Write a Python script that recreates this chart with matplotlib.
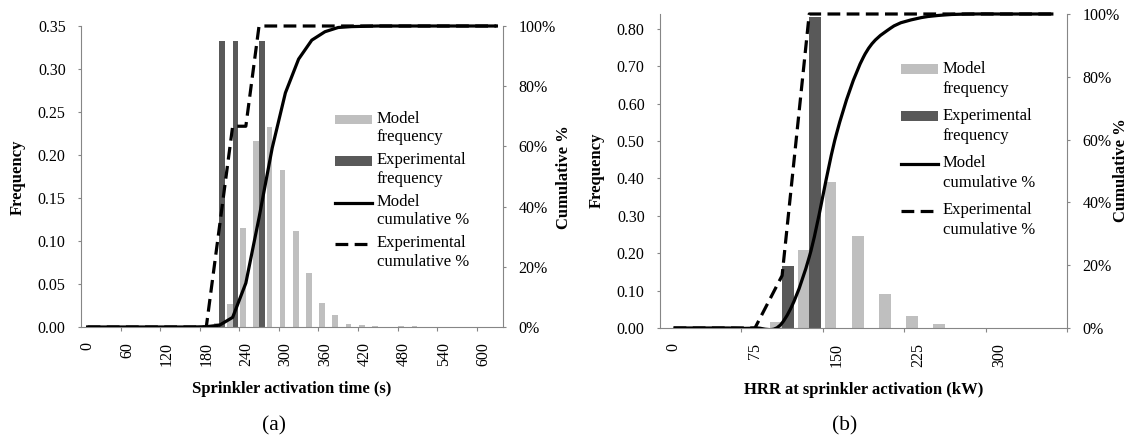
import numpy as np
import matplotlib
matplotlib.use("Agg")
import matplotlib.pyplot as plt
from matplotlib.path import Path
from matplotlib.patches import PathPatch, Rectangle
from matplotlib.lines import Line2D
from matplotlib.ticker import FuncFormatter, FixedLocator
from matplotlib.legend_handler import HandlerPatch, HandlerLine2D, update_from_first_child

plt.rcParams["font.family"] = ["Liberation Serif", "DejaVu Serif"]

W, H = 1128, 444

# (a) sprinkler activation time, 20 s bins
time_bins = [0, 20, 40, 60, 80, 100, 120, 140, 160, 180, 200, 220, 240, 260, 280, 300,
             320, 340, 360, 380, 400, 420, 440, 460, 480, 500, 520, 540, 560, 580, 600, 620]
time_model_freq = [0, 0, 0, 0, 0, 0, 0, 0, 0, 0.001, 0.005, 0.027, 0.115, 0.216, 0.232, 0.183,
                   0.112, 0.063, 0.028, 0.014, 0.004, 0.002, 0.0015, 0, 0.001, 0.001, 0, 0, 0, 0, 0, 0]
time_exp_freq = [0, 0, 0, 0, 0, 0, 0, 0, 0, 0, 0.333, 0.333, 0, 0.333, 0, 0,
                 0, 0, 0, 0, 0, 0, 0, 0, 0, 0, 0, 0, 0, 0, 0, 0]
time_model_cum = [0, 0, 0, 0, 0, 0, 0, 0, 0, 0.1, 0.6, 3.2, 14.6, 36.3, 59.5, 77.8,
                  89.0, 95.3, 98.1, 99.5, 99.8, 99.9, 100, 100, 100, 100, 100, 100, 100, 100, 100, 100]
time_exp_cum = [0, 0, 0, 0, 0, 0, 0, 0, 0, 0, 33.3, 66.7, 66.7, 100, 100, 100,
                100, 100, 100, 100, 100, 100, 100, 100, 100, 100, 100, 100, 100, 100, 100, 100]
time_ticks = [0, 60, 120, 180, 240, 300, 360, 420, 480, 540, 600]
freq_ticks_a = [0, 0.05, 0.10, 0.15, 0.20, 0.25, 0.30, 0.35]

# (b) HRR at activation, 25 kW bins
hrr_bins = [0, 25, 50, 75, 100, 125, 150, 175, 200, 225, 250, 275, 300, 325, 350]
hrr_model_freq = [0, 0, 0, 0, 0.016, 0.210, 0.390, 0.246, 0.092, 0.031, 0.011, 0, 0, 0, 0]
hrr_exp_freq = [0, 0, 0, 0, 0.167, 0.833, 0, 0, 0, 0, 0, 0, 0, 0, 0]
hrr_model_cum = [0, 0, 0, 0, 1.6, 22.6, 61.7, 86.3, 95.5, 98.6, 99.7, 100, 100, 100, 100]
hrr_exp_cum = [0, 0, 0, 0, 16.7, 100, 100, 100, 100, 100, 100, 100, 100, 100, 100]
hrr_ticks = [0, 75, 150, 225, 300]
freq_ticks_b = [0, 0.10, 0.20, 0.30, 0.40, 0.50, 0.60, 0.70, 0.80]

cum_ticks = [0, 20, 40, 60, 80, 100]

LIGHT = "#BFBFBF"
DARK = "#595959"
AXIS = "#868686"
LW = 2.3
DASH = (0, (4, 2))


def smooth_path(x, y):
    # cubic bezier through every point, tangents from neighbours (Catmull-Rom)
    x = np.asarray(x, float)
    y = np.asarray(y, float)
    n = len(x)
    verts = [(x[0], y[0])]
    codes = [Path.MOVETO]
    for i in range(n - 1):
        j0 = max(i - 1, 0)
        j3 = min(i + 2, n - 1)
        c1 = (x[i] + (x[i + 1] - x[j0]) / 6, y[i] + (y[i + 1] - y[j0]) / 6)
        c2 = (x[i + 1] - (x[j3] - x[i]) / 6, y[i + 1] - (y[j3] - y[i]) / 6)
        verts += [c1, c2, (x[i + 1], y[i + 1])]
        codes += [Path.CURVE4] * 3
    return Path(verts, codes)


class LiftPatch(HandlerPatch):
    def __init__(self, lift, **kw):
        super().__init__(**kw)
        self.lift = lift

    def create_artists(self, legend, orig_handle, xdescent, ydescent, width, height, fontsize, trans):
        return super().create_artists(legend, orig_handle, xdescent, ydescent - self.lift,
                                      width, height, fontsize, trans)


class LiftLine(HandlerLine2D):
    def __init__(self, lift, **kw):
        super().__init__(**kw)
        self.lift = lift

    def create_artists(self, legend, orig_handle, xdescent, ydescent, width, height, fontsize, trans):
        return super().create_artists(legend, orig_handle, xdescent, ydescent - 2 * self.lift,
                                      width, height, fontsize, trans)


def panel(fig, rect, bins, model_freq, exp_freq, model_cum, exp_cum, ticks, freq_ticks,
          ymax, smooth, legend_xy, linesp, labsp):
    ax = fig.add_axes(rect)
    binw = bins[1] - bins[0]
    w = 0.43 * binw
    b_model = ax.bar(bins, model_freq, width=-w, align="edge", color=LIGHT, linewidth=0)
    b_exp = ax.bar(bins, exp_freq, width=w, align="edge", color=DARK, linewidth=0)
    ax.set_xlim(bins[0] - binw / 2, bins[-1] + binw / 2)
    ax.set_ylim(0, ymax)

    ax2 = ax.twinx()
    ax2.set_ylim(0, 100)
    # lines may run over the top edge, but nothing below the x axis
    clip = Rectangle((0, 0), 1, 1.1, transform=ax2.transAxes, visible=False)
    ax2.add_patch(clip)
    if smooth:
        model_line = PathPatch(smooth_path(bins, model_cum), fill=False, ec="black", lw=LW)
        ax2.add_patch(model_line)
    else:
        model_line, = ax2.plot(bins, model_cum, color="black", lw=LW)
    exp_line, = ax2.plot(bins, exp_cum, color="black", lw=LW, ls=DASH)
    for ln in (model_line, exp_line):
        ln.set_clip_path(clip)

    for s in ("top", "right"):
        ax.spines[s].set_visible(False)
    for s in ("top", "left", "bottom"):
        ax2.spines[s].set_visible(False)
    for sp in (ax.spines["left"], ax.spines["bottom"], ax2.spines["right"]):
        sp.set_color(AXIS)
        sp.set_linewidth(0.8)

    ax.set_xticks(ticks)
    ax.set_xticklabels([str(t) for t in ticks], rotation=90)
    ax.xaxis.set_minor_locator(FixedLocator([b + binw / 2 for b in bins[2::3]]))
    ax.tick_params(axis="x", which="major", length=0, pad=11, labelsize=11.5)
    ax.tick_params(axis="x", which="minor", length=3, width=0.8, color=AXIS, direction="out")
    ax.yaxis.set_major_locator(FixedLocator(freq_ticks))
    ax.yaxis.set_major_formatter(FuncFormatter(lambda v, p: f"{v:.2f}"))
    ax.tick_params(axis="y", length=2, width=0.8, color=AXIS, pad=9, labelsize=11.5)
    ax2.yaxis.set_major_locator(FixedLocator(cum_ticks))
    ax2.yaxis.set_major_formatter(FuncFormatter(lambda v, p: f"{v:.0f}%"))
    ax2.tick_params(axis="y", length=2, width=0.8, color=AXIS, pad=9, labelsize=11.5)

    lift = 0.5 * linesp * 12 * 0.9
    h_model = Line2D([], [], color="black", lw=LW)
    h_exp = Line2D([], [], color="black", lw=LW, ls=DASH)
    leg = ax2.legend([b_model, b_exp, h_model, h_exp],
                     ["Model\nfrequency", "Experimental\nfrequency",
                      "Model\ncumulative %", "Experimental\ncumulative %"],
                     loc="upper left", bbox_to_anchor=(legend_xy[0] / W, 1 - legend_xy[1] / H),
                     bbox_transform=fig.transFigure, frameon=False, fontsize=12,
                     borderpad=0, borderaxespad=0, handlelength=2.2, handleheight=0.5,
                     handletextpad=0.3, labelspacing=labsp,
                     handler_map={type(b_model): LiftPatch(lift, update_func=update_from_first_child),
                                  Line2D: LiftLine(lift)})
    for t in leg.get_texts():
        t.set_linespacing(linesp)
    return ax, ax2


fig = plt.figure(figsize=(W / 100, H / 100), dpi=100)

panel(fig, [81 / W, 1 - 327 / H, 422 / W, 301 / H],
      time_bins, time_model_freq, time_exp_freq, time_model_cum, time_exp_cum,
      time_ticks, freq_ticks_a, 0.35, False, (335, 111), 1.18, 0.44)
panel(fig, [660 / W, 1 - 328 / H, 407 / W, 314 / H],
      hrr_bins, hrr_model_freq, hrr_exp_freq, hrr_model_cum, hrr_exp_cum,
      hrr_ticks, freq_ticks_b, 0.84, True, (901, 61), 1.32, 0.67)

bold = dict(fontsize=12, fontweight="bold", ha="center", va="center")
fig.text(18 / W, 1 - 177 / H, "Frequency", rotation=90, **bold)
fig.text(564 / W, 1 - 177 / H, "Cumulative %", rotation=90, **bold)
fig.text(597 / W, 1 - 170 / H, "Frequency", rotation=90, **bold)
fig.text(1121 / W, 1 - 170 / H, "Cumulative %", rotation=90, **bold)
fig.text(292 / W, 1 - 389 / H, "Sprinkler activation time (s)", **bold)
fig.text(864 / W, 1 - 390 / H, "HRR at sprinkler activation (kW)", **bold)
fig.text(274 / W, 1 - 426 / H, "(a)", fontsize=15.5, ha="center", va="center")
fig.text(845 / W, 1 - 426 / H, "(b)", fontsize=15.5, ha="center", va="center")

fig.savefig("out.png", dpi=100)
